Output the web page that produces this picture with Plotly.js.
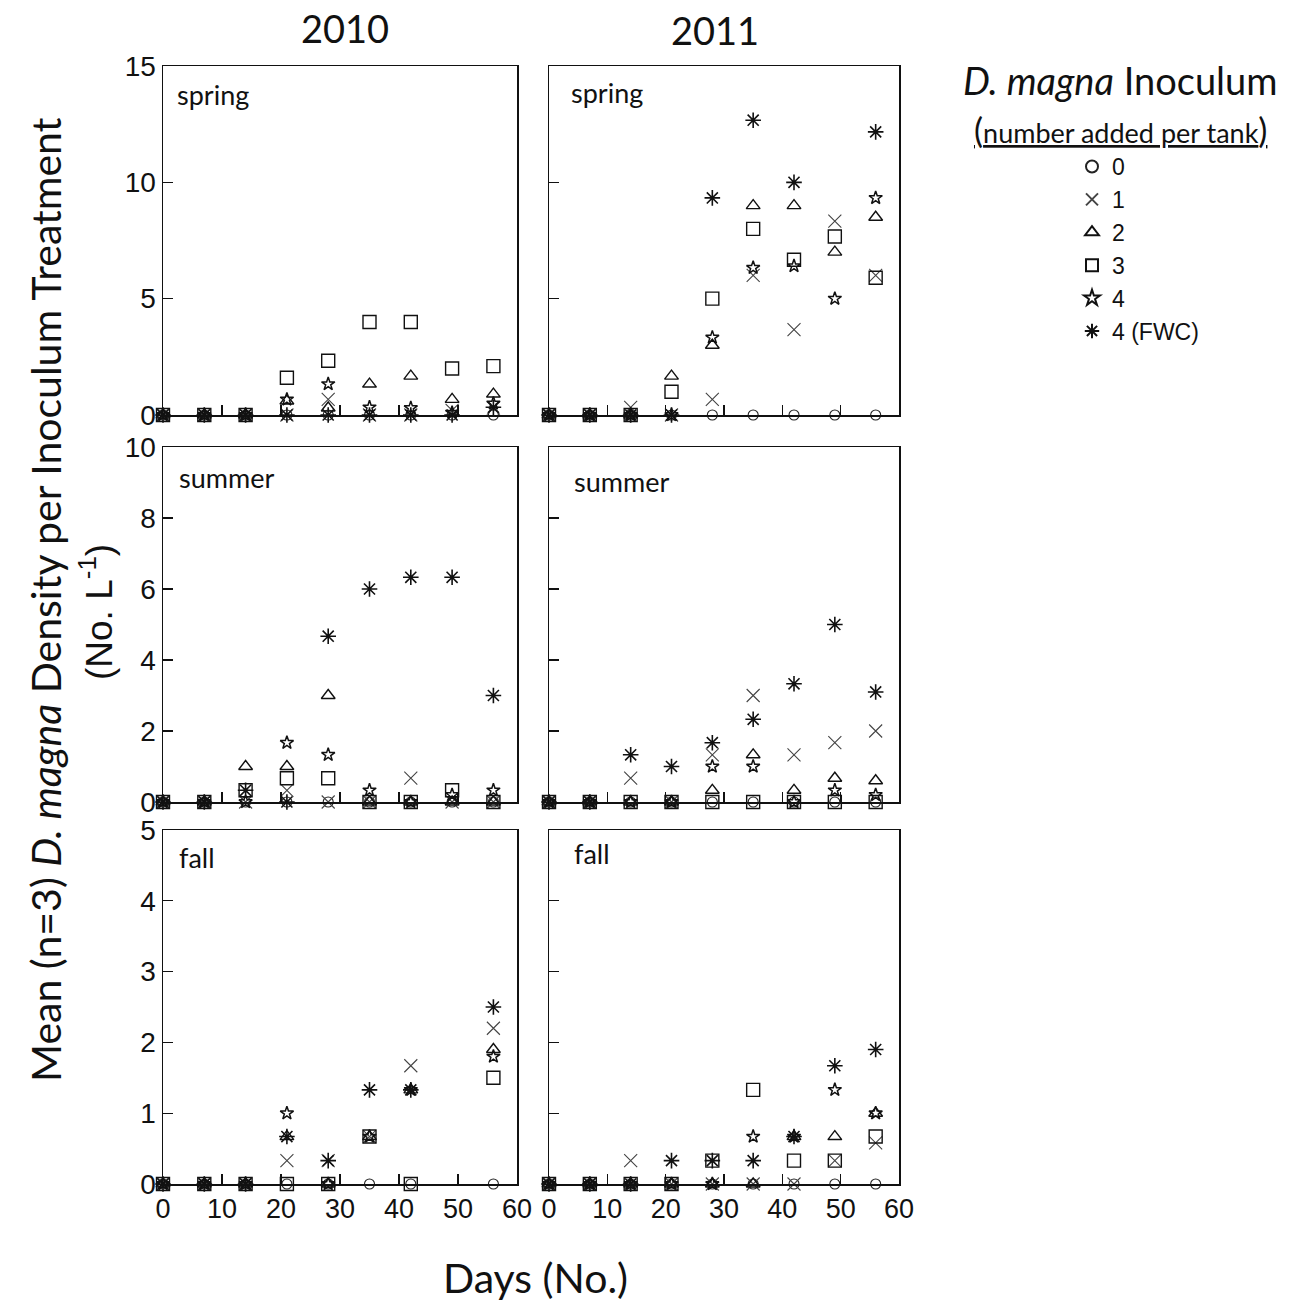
<!DOCTYPE html>
<html>
<head>
<meta charset="utf-8">
<script src="https://cdn.plot.ly/plotly-3.0.1.min.js"></script>
<style>
  html, body { margin: 0; padding: 0; background: #fff; }
  #chart { width: 1295px; height: 1302px; }
</style>
</head>
<body>
<div id="chart"></div>
<script>
// Sampling days
const days = [0, 7, 14, 21, 28, 35, 42, 49, 56];

// Inoculum treatments (number of D. magna added per tank)
const treatments = ['0', '1', '2', '3', '4', '4 (FWC)'];

// Mean density (No. L-1), one row per treatment in the order above
const spring2010 = [
  [0, 0, 0, 0, 0, 0, 0, 0, 0],
  [0, 0, 0, 0, 0.67, 0, 0, 0.2, 0.3],
  [0, 0, 0, 0.6, 0.3, 1.33, 1.67, 0.67, 0.9],
  [0, 0, 0, 1.6, 2.33, 4.0, 4.0, 2.0, 2.1],
  [0, 0, 0, 0.67, 1.33, 0.33, 0.3, 0.1, 0.5],
  [0, 0, 0, 0, 0, 0, 0, 0, 0.33]
];
const spring2011 = [
  [0, 0, 0, 0, 0, 0, 0, 0, 0],
  [0, 0, 0.33, 0, 0.67, 6.0, 3.67, 8.33, 6.0],
  [0, 0, 0, 1.67, 3.0, 9.0, 9.0, 7.0, 8.5],
  [0, 0, 0, 1.0, 5.0, 8.0, 6.67, 7.67, 5.9],
  [0, 0, 0, 0, 3.33, 6.33, 6.4, 5.0, 9.33],
  [0, 0, 0, 0, 9.33, 12.67, 10.0, null, 12.17]
];
const summer2010 = [
  [0, 0, 0, 0, 0, 0, 0, 0, 0],
  [0, 0, 0, 0.33, 0, 0, 0.67, 0, 0],
  [0, 0, 1.0, 1.0, 3.0, 0, 0, 0, 0],
  [0, 0, 0.33, 0.67, 0.67, 0, 0, 0.33, 0],
  [0, 0, 0, 1.67, 1.33, 0.33, 0, 0.2, 0.33],
  [0, 0, 0.33, 0, 4.67, 6.0, 6.33, 6.33, 3.0]
];
const summer2011 = [
  [0, 0, 0, 0, 0, 0, 0, 0, 0],
  [0, 0, 0.67, 0, 1.33, 3.0, 1.33, 1.67, 2.0],
  [0, 0, 0, 0, 0.33, 1.33, 0.33, 0.67, 0.6],
  [0, 0, 0, 0, 0, 0, 0, 0, 0],
  [0, 0, 0, 0, 1.0, 1.0, 0, 0.33, 0.2],
  [0, 0, 1.33, 1.0, 1.67, 2.33, 3.33, 5.0, 3.1]
];
const fall2010 = [
  [0, 0, 0, 0, 0, 0, 0, null, 0],
  [0, 0, 0, 0.33, 0.33, 0.67, 1.67, null, 2.2],
  [0, 0, 0, 0.67, 0, 0.67, 1.33, null, 1.9],
  [0, 0, 0, 0, 0, 0.67, 0, null, 1.5],
  [0, 0, 0, 1.0, 0, 0.67, 1.33, null, 1.8],
  [0, 0, 0, 0.67, 0.33, 1.33, 1.33, null, 2.5]
];
const fall2011 = [
  [0, 0, 0, 0, 0, 0, 0, 0, 0],
  [0, 0, 0.33, 0, 0, 0, 0, 0.33, 0.58],
  [0, 0, 0, 0, 0, 0, 0.67, 0.67, 1.0],
  [0, 0, 0, 0, 0.33, 1.33, 0.33, 0.33, 0.67],
  [0, 0, 0, 0, 0, 0.67, 0.67, 1.33, 1.0],
  [0, 0, 0, 0.33, 0.33, 0.33, 0.67, 1.67, 1.9]
];

const yearTitles = ['2010', '2011'];
const seasonLabels = ['spring', 'summer', 'fall'];
const yTickValues = [[0, 5, 10, 15], [0, 2, 4, 6, 8, 10], [0, 1, 2, 3, 4, 5]];
const xTickValues = [0, 10, 20, 30, 40, 50, 60];

// Panel grid: rows = seasons, columns = years
const panels = [
  [spring2010, spring2011],
  [summer2010, summer2011],
  [fall2010, fall2011]
];
const yMax = [15, 10, 5];

// Marker styles per treatment
const markerStyles = [
  { symbol: 'circle-open', size: 10, color: '#222', width: 1.1 },
  { symbol: 'x-thin-open', size: 13, color: '#444', width: 1.1 },
  { symbol: 'triangle-up-open', size: 12, color: '#111', width: 1.4 },
  { symbol: 'square-open', size: 13, color: '#111', width: 1.4 },
  { symbol: 'star-open', size: 10, color: '#111', width: 1.5 },
  { symbol: 'asterisk-open', size: 13, color: '#111', width: 1.6 }
];

const W = 1295, H = 1302;
const colPx = [[163, 517], [549, 899]];
const rowPx = [[66, 415], [447, 802], [830, 1184]];

const ARIAL = 'Liberation Sans, Arial, sans-serif';
const HUMANIST = 'Lato, Open Sans, sans-serif';

const traces = [];
const layout = {
  width: W,
  height: H,
  margin: { l: 0, r: 0, t: 0, b: 0 },
  paper_bgcolor: '#fff',
  plot_bgcolor: '#fff',
  showlegend: true,
  legend: {
    x: 1072 / W,
    y: 1 - 145 / H,
    xanchor: 'left',
    yanchor: 'top',
    font: { family: ARIAL, size: 23, color: '#111' },
    itemsizing: 'constant',
    tracegroupgap: 0,
    bgcolor: 'rgba(0,0,0,0)'
  },
  annotations: [],
  font: { family: ARIAL, color: '#111' }
};

panels.forEach((row, r) => {
  row.forEach((data, c) => {
    const idx = r * 2 + c + 1;
    const xName = 'xaxis' + (idx === 1 ? '' : idx);
    const yName = 'yaxis' + (idx === 1 ? '' : idx);
    const xRef = 'x' + (idx === 1 ? '' : idx);
    const yRef = 'y' + (idx === 1 ? '' : idx);

    layout[xName] = {
      domain: [colPx[c][0] / W, colPx[c][1] / W],
      range: [0, 60],
      anchor: yRef,
      tickvals: xTickValues,
      ticks: 'inside',
      ticklen: 10,
      tickwidth: 1.3,
      tickcolor: '#111',
      showticklabels: r === 2,
      tickfont: { family: ARIAL, size: 27, color: '#111' },
      showline: true,
      linecolor: '#111',
      linewidth: 1.5,
      mirror: true,
      showgrid: false,
      zeroline: false,
      fixedrange: true
    };
    layout[yName] = {
      domain: [1 - rowPx[r][1] / H, 1 - rowPx[r][0] / H],
      range: [0, yMax[r]],
      anchor: xRef,
      tickvals: yTickValues[r],
      ticks: 'inside',
      ticklen: 10,
      tickwidth: 1.3,
      tickcolor: '#111',
      showticklabels: c === 0,
      tickfont: { family: ARIAL, size: 28, color: '#111' },
      showline: true,
      linecolor: '#111',
      linewidth: 1.5,
      mirror: true,
      showgrid: false,
      zeroline: false,
      fixedrange: true
    };

    data.forEach((vals, s) => {
      const m = markerStyles[s];
      traces.push({
        type: 'scatter',
        mode: 'markers',
        x: days,
        y: vals,
        xaxis: xRef,
        yaxis: yRef,
        name: treatments[s],
        legendgroup: treatments[s],
        showlegend: idx === 1,
        cliponaxis: false,
        marker: {
          symbol: m.symbol,
          size: m.size,
          color: m.color,
          line: { color: m.color, width: m.width }
        },
        hoverinfo: 'skip'
      });
    });

    // Season label in the panel corner
    const labelPos = [
      [[0.034, 0.917], [0.057, 0.925]],
      [[0.04, 0.913], [0.066, 0.904]],
      [[0.04, 0.921], [0.066, 0.935]]
    ][r][c];
    layout.annotations.push({
      xref: xRef + ' domain',
      yref: yRef + ' domain',
      x: labelPos[0],
      y: labelPos[1],
      xanchor: 'left',
      yanchor: 'middle',
      showarrow: false,
      text: seasonLabels[r],
      font: { family: HUMANIST, size: 27, color: '#111' }
    });
  });
});

// Year headings
[[345, 28], [715, 30]].forEach((p, i) => {
  layout.annotations.push({
    xref: 'paper', yref: 'paper',
    x: p[0] / W, y: 1 - p[1] / H,
    xanchor: 'center', yanchor: 'middle',
    showarrow: false,
    text: yearTitles[i],
    font: { family: HUMANIST, size: 38, color: '#111' }
  });
});

// Shared axis titles
layout.annotations.push({
  xref: 'paper', yref: 'paper',
  x: 45 / W, y: 1 - 600 / H,
  xanchor: 'center', yanchor: 'middle',
  textangle: -90,
  showarrow: false,
  text: 'Mean (n=3) <i>D. magna</i> Density per Inoculum Treatment',
  font: { family: HUMANIST, size: 41, color: '#111' }
});
layout.annotations.push({
  xref: 'paper', yref: 'paper',
  x: 96 / W, y: 1 - 612 / H,
  xanchor: 'center', yanchor: 'middle',
  textangle: -90,
  showarrow: false,
  text: '(No. L<sup>-1</sup>)',
  font: { family: ARIAL, size: 37, color: '#111' }
});
layout.annotations.push({
  xref: 'paper', yref: 'paper',
  x: 535 / W, y: 1 - 1277 / H,
  xanchor: 'center', yanchor: 'middle',
  showarrow: false,
  text: 'Days (No.)',
  font: { family: HUMANIST, size: 41, color: '#111' }
});

// Legend heading
layout.annotations.push({
  xref: 'paper', yref: 'paper',
  x: 1120 / W, y: 1 - 80 / H,
  xanchor: 'center', yanchor: 'middle',
  showarrow: false,
  text: '<i>D. magna</i> Inoculum',
  font: { family: HUMANIST, size: 38, color: '#111' }
});
layout.annotations.push({
  xref: 'paper', yref: 'paper',
  x: 1120 / W, y: 1 - 130 / H,
  xanchor: 'center', yanchor: 'middle',
  showarrow: false,
  text: '<span style="text-decoration:underline"><span style="font-size:34px">(</span>number added per tank<span style="font-size:34px">)</span></span>',
  font: { family: HUMANIST, size: 27, color: '#111' }
});

Plotly.newPlot('chart', traces, layout, { staticPlot: true, displayModeBar: false });
</script>
</body>
</html>
